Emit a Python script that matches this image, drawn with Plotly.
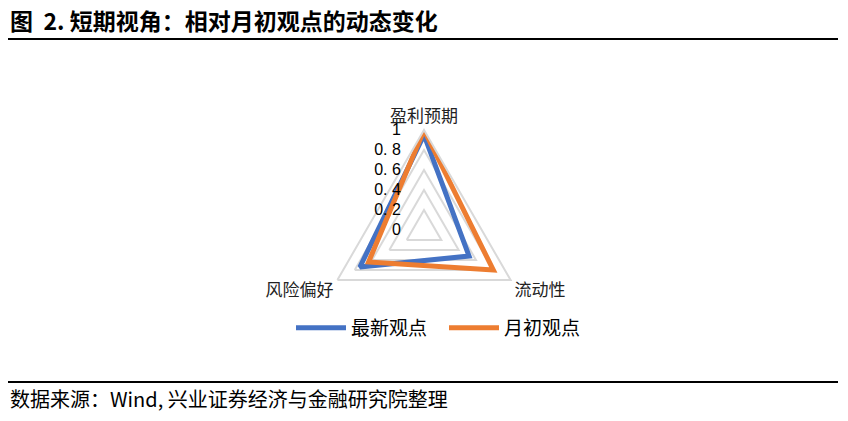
import plotly.graph_objects as go

categories = ["盈利预期", "流动性", "风险偏好"]
latest_view = [0.95, 0.52, 0.74]
month_start_view = [1.0, 0.80, 0.64]
radial_ticks = [0, 0.2, 0.4, 0.6, 0.8, 1]
radial_ticktext = ["0", "0. 2", "0. 4", "0. 6", "0. 8", "1"]

W, H = 848, 421
cx, cy, r = 424, 230, 100

fig = go.Figure()
fig.add_trace(go.Scatterpolar(
    r=latest_view + latest_view[:1], theta=categories + categories[:1],
    mode="lines", name="最新观点",
    line=dict(color="#4472C4", width=5), cliponaxis=False))
fig.add_trace(go.Scatterpolar(
    r=month_start_view + month_start_view[:1], theta=categories + categories[:1],
    mode="lines", name="月初观点",
    line=dict(color="#ED7D31", width=5), cliponaxis=False))

fig.update_layout(
    width=W, height=H,
    margin=dict(l=0, r=0, t=0, b=0),
    paper_bgcolor="white", plot_bgcolor="white",
    font=dict(family="Noto Sans CJK SC", color="#000000"),
    polar=dict(
        domain=dict(x=[(cx - r) / W, (cx + r) / W], y=[(H - cy - r) / H, (H - cy + r) / H]),
        bgcolor="white",
        gridshape="linear",
        radialaxis=dict(range=[0, 1], tickvals=radial_ticks, ticktext=radial_ticktext,
                        angle=90, tickangle=90, showline=False,
                        ticks="outside", ticklen=17, tickcolor="rgba(0,0,0,0)",
                        gridcolor="#D9D9D9", gridwidth=2,
                        side="counterclockwise", layer="above traces",
                        tickfont=dict(family="Liberation Sans, Arial", size=16, color="#000000")),
        angularaxis=dict(rotation=90, direction="clockwise", showline=True,
                         linecolor="#D9D9D9", linewidth=2,
                         showgrid=False, ticks="",
                         tickfont=dict(family="Noto Sans CJK SC", size=17, color="#222222")),
    ),
    legend=dict(orientation="h", x=0.5 + 20 / W, xanchor="center", y=(H - 328) / H,
                yanchor="middle", font=dict(size=19, family="Noto Sans CJK SC"),
                itemwidth=50, entrywidth=88, entrywidthmode="pixels",
                traceorder="normal"),
    annotations=[
        dict(text="<b>图  2. 短期视角：相对月初观点的动态变化</b>", x=8 / W, y=1 - 20 / H,
             xref="paper", yref="paper", xanchor="left", yanchor="middle",
             showarrow=False, font=dict(size=23, family="Noto Sans CJK SC", color="#000000")),
        dict(text="数据来源：Wind, 兴业证券经济与金融研究院整理", x=8 / W, y=1 - 398 / H,
             xref="paper", yref="paper", xanchor="left", yanchor="middle",
             showarrow=False, font=dict(size=20, family="Noto Sans CJK SC", color="#000000")),
    ],
    shapes=[
        dict(type="line", xref="paper", yref="paper", x0=8 / W, x1=838 / W,
             y0=1 - 39 / H, y1=1 - 39 / H, line=dict(color="black", width=2)),
        dict(type="line", xref="paper", yref="paper", x0=8 / W, x1=838 / W,
             y0=1 - 382 / H, y1=1 - 382 / H, line=dict(color="black", width=2)),
    ],
)

fig.write_html("out.html", config={"displayModeBar": False},
               post_script="document.body.style.margin='0';document.body.style.overflow='hidden';")
